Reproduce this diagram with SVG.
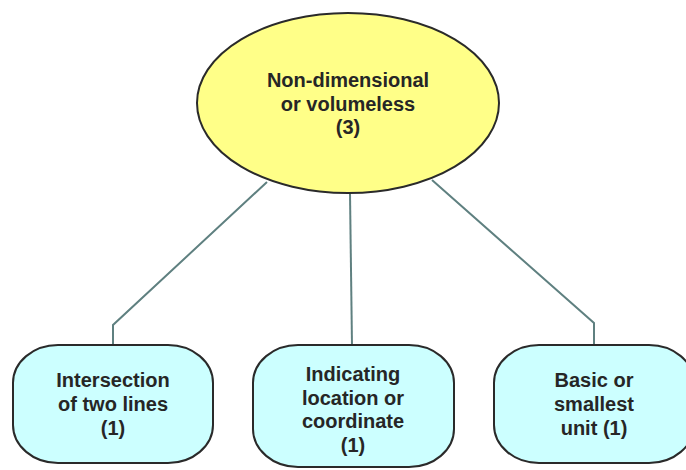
<svg xmlns="http://www.w3.org/2000/svg" width="686" height="470" viewBox="0 0 686 470">
<style>
.conn{fill:none;stroke:#5f8080;stroke-width:2}
.leaf{fill:#ccffff;stroke:#2a2a2a;stroke-width:2}
.root{fill:#ffff88;stroke:#2a2a2a;stroke-width:2}
text{font-family:"Liberation Sans",Arial,sans-serif;font-size:20px;font-weight:bold;fill:#262626;text-anchor:middle}
</style>
<rect width="686" height="470" fill="#ffffff"/>
<g id="connectors">
<polyline class="conn" points="267,182 113,325 113,346"/>
<polyline class="conn" points="350,193 352,346"/>
<polyline class="conn" points="432,180 594,323 594,346"/>
</g>
<g id="root">
<ellipse class="root" cx="348" cy="103" rx="151" ry="90"/>
<text x="348" y="87">Non-dimensional</text>
<text x="348" y="110.5">or volumeless</text>
<text x="348" y="134">(3)</text>
</g>
<g id="n1">
<rect class="leaf" x="13" y="345" width="200" height="118" rx="45" ry="38"/>
<text x="113" y="387">Intersection</text>
<text x="113" y="411">of two lines</text>
<text x="113" y="435">(1)</text>
</g>
<g id="n2">
<rect class="leaf" x="253" y="345" width="201" height="122" rx="45" ry="38"/>
<text x="353" y="381">Indicating</text>
<text x="353" y="404.5">location or</text>
<text x="353" y="428">coordinate</text>
<text x="353" y="452">(1)</text>
</g>
<g id="n3">
<rect class="leaf" x="494" y="345" width="200" height="118" rx="45" ry="38"/>
<text x="594" y="387">Basic or</text>
<text x="594" y="411">smallest</text>
<text x="594" y="435">unit (1)</text>
</g>
</svg>
